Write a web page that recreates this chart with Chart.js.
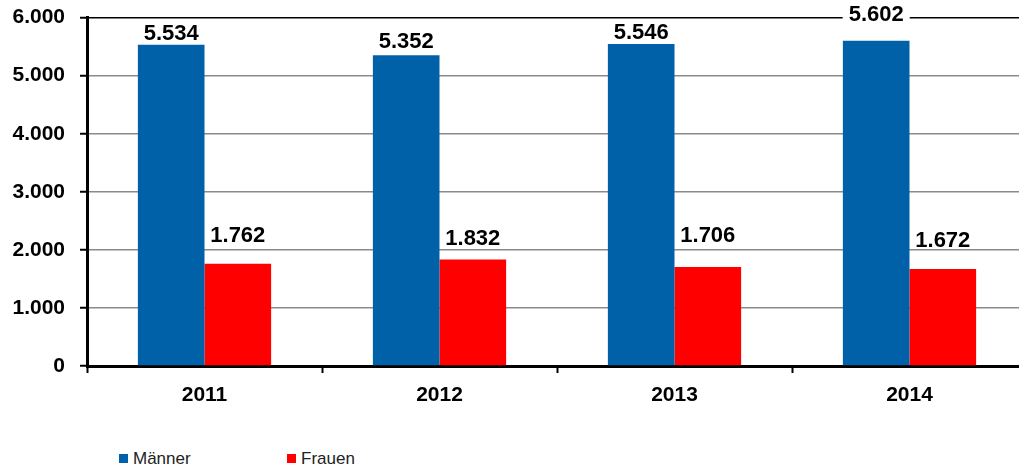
<!DOCTYPE html>
<html>
<head>
<meta charset="utf-8">
<script src="https://cdn.jsdelivr.net/npm/chart.js@4/dist/chart.umd.min.js"></script>
<style>
  html, body { margin: 0; padding: 0; background: #fff; overflow: hidden; }
  #wrap { position: relative; width: 1019px; height: 470px; overflow: hidden; }
  #c { position: absolute; left: 0; top: -10px; }
  #legende { position: absolute; top: 449px; left: 0; font-family: "Liberation Sans", Arial, sans-serif; font-size: 17px; color: #222; }
  .item { position: absolute; white-space: nowrap; }
  .box { display: inline-block; width: 9px; height: 9px; margin-right: 5px; vertical-align: 1px; }
</style>
</head>
<body>
<div id="wrap">
  <canvas id="c" width="1030" height="430" style="width:1030px;height:430px"></canvas>
  <div id="legende"></div>
</div>
<script>
// Daten
const jahre = ["2011", "2012", "2013", "2014"];
const maenner = [5534, 5352, 5546, 5602];
const frauen = [1762, 1832, 1706, 1672];
const yTicks = [0, 1000, 2000, 3000, 4000, 5000, 6000];

// Abstand Beschriftung (Mitte) zur Balkenoberkante
const hubMaenner = [12, 14, 12, 27];
const hubFrauen = [28.5, 21.5, 32.5, 28.5];

function formatDe(v) {
  return String(v).replace(/\B(?=(\d{3})+(?!\d))/g, ".");
}

const datensaetze = [
  { label: "Männer", data: maenner, backgroundColor: "#0060A8", hub: hubMaenner, legX: 119 },
  { label: "Frauen", data: frauen, backgroundColor: "#FF0000", hub: hubFrauen, legX: 287 }
];

// Werte über den Balken, mit weißem Hintergrund
const wertePlugin = {
  id: "werte",
  afterDatasetsDraw(chart) {
    const ctx = chart.ctx;
    ctx.save();
    ctx.font = "bold 22px 'Liberation Sans', Arial, sans-serif";
    ctx.textAlign = "center";
    ctx.textBaseline = "middle";
    chart.data.datasets.forEach((ds, i) => {
      chart.getDatasetMeta(i).data.forEach((bar, j) => {
        const txt = formatDe(ds.data[j]);
        const y = bar.y - ds.hub[j];
        const w = ctx.measureText(txt).width + (i === 0 ? 12 : 2);
        ctx.fillStyle = "#fff";
        ctx.fillRect(bar.x - w / 2, y - 9, w, 17);
        ctx.fillStyle = "#000";
        ctx.fillText(txt, bar.x, y + 1);
      });
    });
    ctx.restore();
  }
};

new Chart(document.getElementById("c"), {
  type: "bar",
  data: {
    labels: jahre,
    datasets: datensaetze.map(d => ({
      label: d.label,
      data: d.data,
      backgroundColor: d.backgroundColor,
      hub: d.hub,
      barPercentage: 1,
      categoryPercentage: 0.567
    }))
  },
  options: {
    responsive: false,
    animation: false,
    layout: { padding: { top: 7, right: 3, left: 0, bottom: 0 } },
    plugins: {
      legend: { display: false },
      tooltip: { enabled: false }
    },
    scales: {
      x: {
        afterFit(scale) { scale.height = 54; },
        grid: {
          offset: true,
          drawOnChartArea: false,
          drawTicks: true,
          tickLength: 7,
          tickColor: "#000",
          tickWidth: 2
        },
        border: { color: "#000", width: 3 },
        ticks: {
          color: "#000",
          padding: 10,
          font: { family: "'Liberation Sans', Arial, sans-serif", size: 21, weight: "bold" }
        }
      },
      y: {
        min: 0,
        max: 6000,
        afterFit(scale) { scale.width = 87; },
        afterBuildTicks(scale) { scale.ticks = yTicks.map(v => ({ value: v })); },
        grid: {
          color: c => (c.tick && c.tick.value === 6000 ? "#000" : "#8a8a8a"),
          lineWidth: 1.5,
          tickLength: 7,
          tickColor: "#000",
          tickWidth: 2
        },
        border: { color: "#000", width: 3 },
        ticks: {
          color: "#000",
          padding: 15,
          font: { family: "'Liberation Sans', Arial, sans-serif", size: 21, weight: "bold" },
          callback: v => formatDe(v)
        }
      }
    }
  },
  plugins: [wertePlugin]
});

// Legende unten
const leg = document.getElementById("legende");
datensaetze.forEach(d => {
  const el = document.createElement("div");
  el.className = "item";
  el.style.left = d.legX + "px";
  el.innerHTML = '<span class="box" style="background:' + d.backgroundColor + '"></span>' + d.label;
  leg.appendChild(el);
});
</script>
</body>
</html>
